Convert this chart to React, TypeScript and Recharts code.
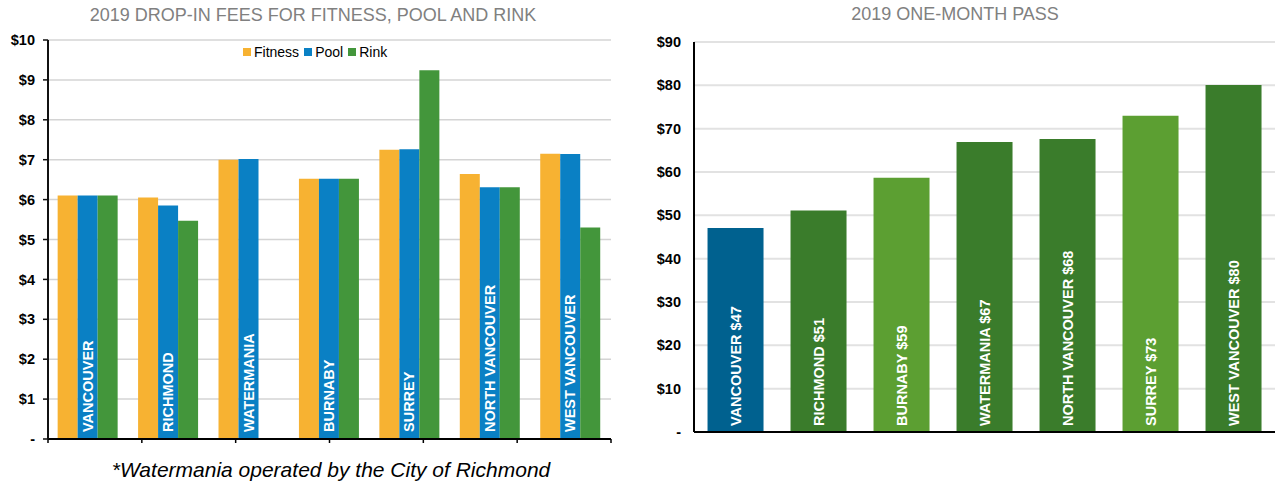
import {
  Bar,
  BarChart,
  CartesianGrid,
  Cell,
  LabelList,
  Legend,
  XAxis,
  YAxis,
} from "recharts";

const FONT = '"Liberation Sans", Arial, sans-serif';

// left chart: drop-in fees
const dropInCities = [
  "VANCOUVER",
  "RICHMOND",
  "WATERMANIA",
  "BURNABY",
  "SURREY",
  "NORTH VANCOUVER",
  "WEST VANCOUVER",
];
const fitnessFees = [6.1, 6.05, 7.0, 6.52, 7.25, 6.64, 7.15];
const poolFees = [6.1, 5.85, 7.02, 6.52, 7.26, 6.31, 7.14];
const rinkFees: (number | null)[] = [6.1, 5.47, null, 6.52, 9.24, 6.31, 5.3];
const feeTicks = [0, 1, 2, 3, 4, 5, 6, 7, 8, 9, 10];
const edgeTicks = [0, 1, 2, 3, 4, 5, 6, 7];

// right chart: one-month pass
const passCities = [
  "VANCOUVER",
  "RICHMOND",
  "BURNABY",
  "WATERMANIA",
  "NORTH VANCOUVER",
  "SURREY",
  "WEST VANCOUVER",
];
const passPrices = [47.1, 51.1, 58.7, 66.9, 67.6, 73.0, 80.1];
const passTicks = [0, 10, 20, 30, 40, 50, 60, 70, 80, 90];

const BLUE = "#00618f";
const DARK_GREEN = "#3a7c2b";
const LIGHT_GREEN = "#5c9f32";
const passColors = [BLUE, DARK_GREEN, LIGHT_GREEN, DARK_GREEN, DARK_GREEN, LIGHT_GREEN, DARK_GREEN];

const dropInData = dropInCities.map((city, i) => ({
  city,
  fitness: fitnessFees[i],
  pool: poolFees[i],
  rink: rinkFees[i],
}));

const passData = passCities.map((city, i) => ({
  city,
  price: passPrices[i],
  label: `${city} $${Math.round(passPrices[i])}`,
}));

const dollar = (v: number) => (v === 0 ? "-" : `$${v}`);

function InsideLabel(props: any) {
  const { x, y, width, height, value, gap } = props;
  const cx = Number(x) + Number(width) / 2;
  const bottom = Number(y) + Number(height) - gap;
  return (
    <text
      x={cx}
      y={bottom}
      transform={`rotate(-90 ${cx} ${bottom})`}
      textAnchor="start"
      dominantBaseline="central"
      fill="#fff"
      fontWeight={700}
      fontSize={14.5}
      fontFamily={FONT}
    >
      {value}
    </text>
  );
}

function FeeLegend(props: any) {
  const items = props.payload || [];
  return (
    <div style={{ display: "flex", alignItems: "center", fontFamily: FONT, fontSize: 14, color: "#000" }}>
      {items.map((it: any) => (
        <div key={it.value} style={{ display: "flex", alignItems: "center", marginRight: 5 }}>
          <span style={{ width: 8, height: 8, background: it.color, marginRight: 3, display: "inline-block" }} />
          <span>{it.value}</span>
        </div>
      ))}
    </div>
  );
}

const tickStyle = { fill: "#000", fontSize: 14.5, fontWeight: 700, fontFamily: FONT };

export default function App() {
  return (
    <div
      style={{
        position: "absolute",
        left: 0,
        top: 0,
        width: 1275,
        height: 484,
        background: "#fff",
        fontFamily: FONT,
        overflow: "hidden",
      }}
    >
      <div
        style={{
          position: "absolute",
          left: 0,
          width: 626,
          top: 6,
          textAlign: "center",
          fontSize: 18,
          lineHeight: "18px",
          color: "#808080",
          zIndex: 2,
        }}
      >
        2019 DROP-IN FEES FOR FITNESS, POOL AND RINK
      </div>

      <div style={{ position: "absolute", left: 0, top: 0 }}>
        <BarChart
          width={640}
          height={484}
          data={dropInData}
          margin={{ top: 40, right: 29, left: 0, bottom: 35 }}
          barCategoryGap="12%"
          barGap={0}
        >
          <CartesianGrid xAxisId="cat" vertical={false} stroke="#d4d4d4" strokeWidth={1.5} />
          <XAxis xAxisId="cat" dataKey="city" hide height={0} />
          <XAxis
            xAxisId="edge"
            type="number"
            domain={[0, 7]}
            ticks={edgeTicks}
            interval={0}
            height={10}
            axisLine={{ stroke: "#000", strokeWidth: 2 }}
            tickLine={{ stroke: "#000", strokeWidth: 1.5 }}
            tickSize={4}
            tickFormatter={() => ""}
          />
          <YAxis
            domain={[0, 10]}
            ticks={feeTicks}
            interval={0}
            width={48}
            tick={tickStyle}
            tickFormatter={dollar}
            axisLine={{ stroke: "#111", strokeWidth: 2 }}
            tickLine={{ stroke: "#111", strokeWidth: 1.5 }}
            tickSize={5}
            tickMargin={8}
          />
          <Legend
            verticalAlign="middle"
            layout="horizontal"
            wrapperStyle={{ top: 44, left: 243, width: 170, height: 16 }}
            content={(p: any) => <FeeLegend {...p} />}
          />
          <Bar xAxisId="cat" dataKey="fitness" name="Fitness" fill="#f7b232" isAnimationActive={false} />
          <Bar xAxisId="cat" dataKey="pool" name="Pool" fill="#0a80c4" isAnimationActive={false}>
            <LabelList dataKey="city" content={(p: any) => <InsideLabel {...p} gap={7} />} />
          </Bar>
          <Bar xAxisId="cat" dataKey="rink" name="Rink" fill="#43963b" isAnimationActive={false} />
        </BarChart>
      </div>

      <div
        style={{
          position: "absolute",
          left: 0,
          width: 662,
          top: 459,
          textAlign: "center",
          fontSize: 21,
          lineHeight: "21px",
          fontStyle: "italic",
          color: "#000",
        }}
      >
        *Watermania operated by the City of Richmond
      </div>

      <div
        style={{
          position: "absolute",
          left: 640,
          width: 630,
          top: 4.5,
          textAlign: "center",
          fontSize: 18,
          lineHeight: "18px",
          color: "#808080",
          zIndex: 2,
        }}
      >
        2019 ONE-MONTH PASS
      </div>

      <div style={{ position: "absolute", left: 640, top: 0 }}>
        <BarChart
          width={635}
          height={484}
          data={passData}
          margin={{ top: 42, right: 0, left: 0, bottom: 50 }}
          barCategoryGap="16.3%"
        >
          <CartesianGrid vertical={false} stroke="#e2e2e2" strokeWidth={2} />
          <XAxis
            dataKey="city"
            height={2}
            tick={false}
            tickLine={false}
            axisLine={{ stroke: "#000", strokeWidth: 2 }}
          />
          <YAxis
            domain={[0, 90]}
            ticks={passTicks}
            interval={0}
            width={54}
            tick={tickStyle}
            tickFormatter={dollar}
            axisLine={{ stroke: "#000", strokeWidth: 2 }}
            tickLine={false}
            tickSize={0}
            tickMargin={13}
          />
          <Bar dataKey="price" isAnimationActive={false}>
            {passData.map((d, i) => (
              <Cell key={d.city} fill={passColors[i]} />
            ))}
            <LabelList dataKey="label" content={(p: any) => <InsideLabel {...p} gap={6} />} />
          </Bar>
        </BarChart>
      </div>
    </div>
  );
}
